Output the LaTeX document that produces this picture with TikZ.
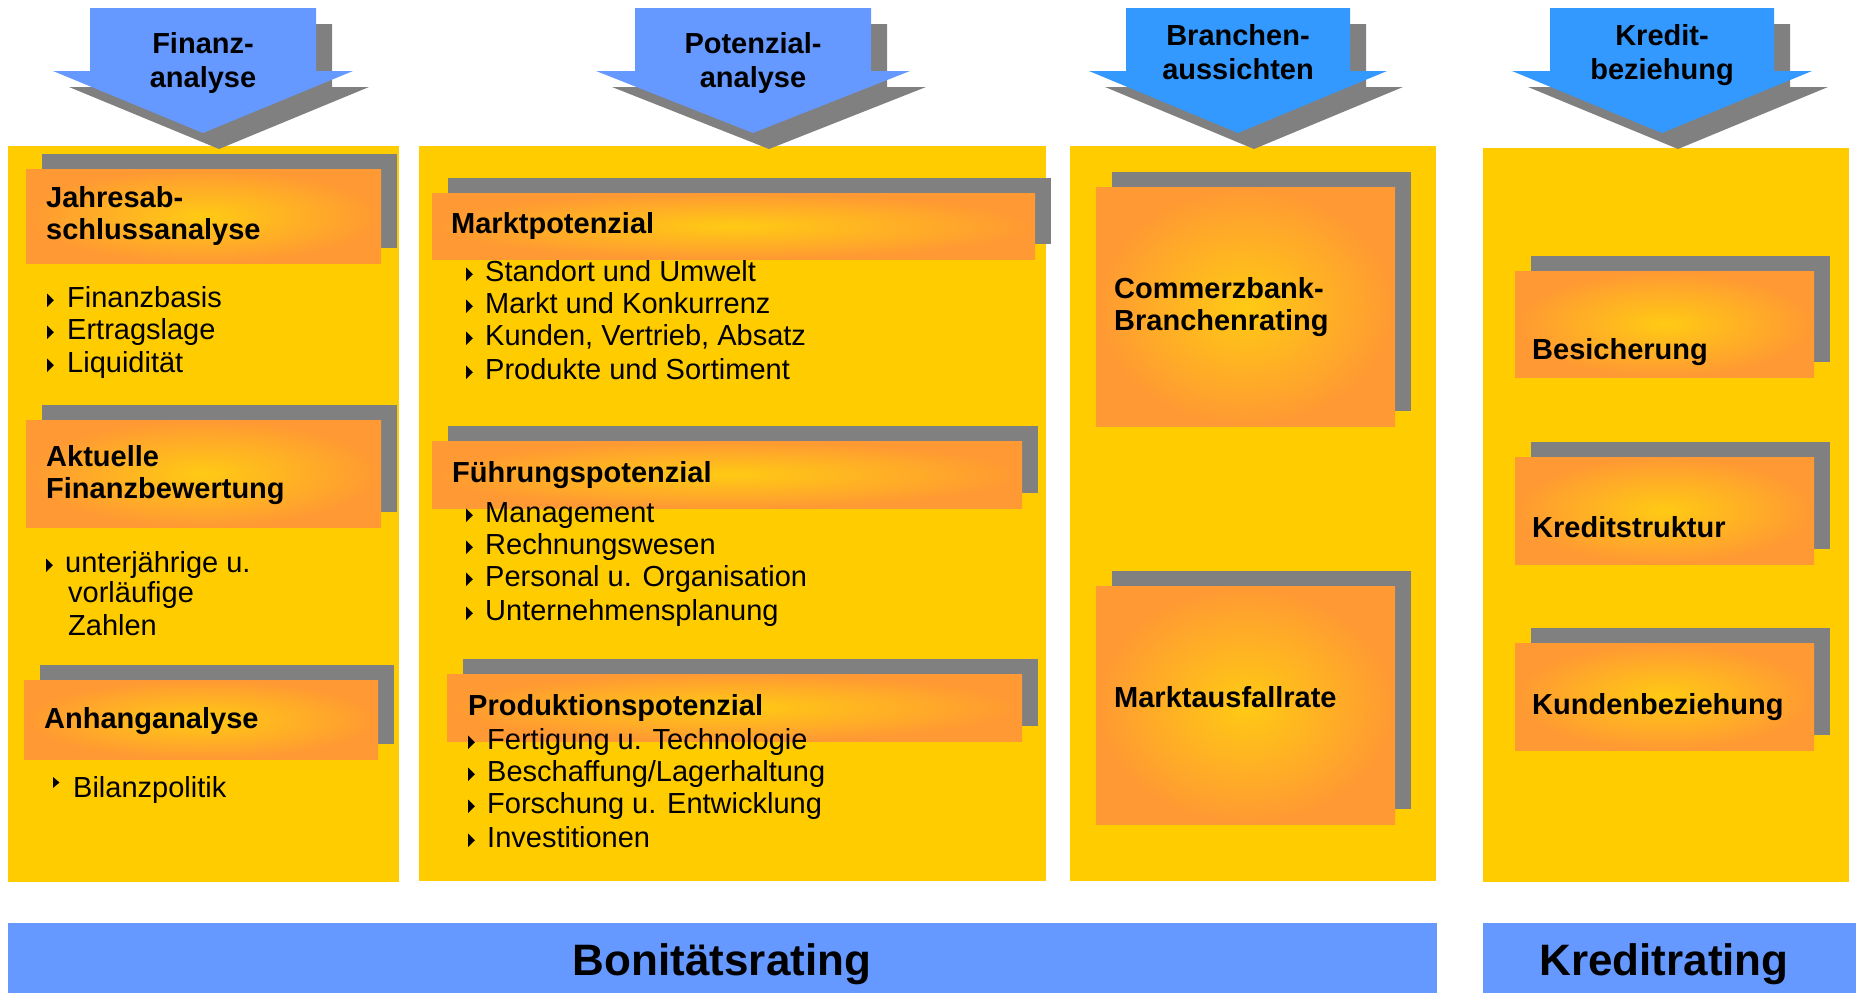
\documentclass[tikz,border=0pt]{standalone}
\usepackage{fontspec}
\setmainfont{Liberation Sans}
\usepackage{tikz}
\usetikzlibrary{positioning, shadows}
\definecolor{panel}{RGB}{255,204,0}
\definecolor{glowmid}{RGB}{255,202,20}
\definecolor{glowrim}{RGB}{255,153,51}
\definecolor{shadowgray}{RGB}{128,128,128}
\definecolor{sky}{RGB}{102,153,255}
\definecolor{skydeep}{RGB}{51,153,255}
% bullet mark in front of an item node (x to the left of its text)
\newcommand{\bulletmark}[2][20]{\fill ([xshift=-#1pt]#2.base west) -- ++(0,-13.5) -- ++(7,6.75) -- cycle;}

\begin{document}
\begin{tikzpicture}[
  x=1pt, y=-1pt,
  panelbox/.style={fill=panel, inner sep=0pt, outer sep=0pt, anchor=north west},
  glowbox/.style={inner color=glowmid, outer color=glowrim, inner sep=0pt, outer sep=0pt,
                  anchor=north west, general shadow={fill=shadowgray, shadow xshift=16pt, shadow yshift=15pt}},
  head/.style={font=\bfseries\fontsize{29}{32}\selectfont, inner sep=0pt, align=left, anchor=north west},
  item/.style={font=\fontsize{29}{33}\selectfont, inner sep=0pt, anchor=base west},
  srclabel/.style={font=\bfseries\fontsize{29}{34}\selectfont, inner sep=0pt, align=center, anchor=north},
  ratingbar/.style={fill=sky, inner sep=0pt, outer sep=0pt, anchor=north west, minimum height=70pt},
  rating/.style={font=\bfseries\fontsize{44}{50}\selectfont, inner sep=0pt, anchor=base},
]
\useasboundingbox (0,0) rectangle (1856,993);

% columns
\node[panelbox, minimum width=391pt, minimum height=736pt] (fincol) at (8,146) {};
\node[panelbox, minimum width=627pt, minimum height=735pt] (potcol) at (419,146) {};
\node[panelbox, minimum width=366pt, minimum height=735pt] (bracol) at (1070,146) {};
\node[panelbox, minimum width=366pt, minimum height=734pt] (krecol) at (1483,148) {};

% Finanzanalyse
\node[glowbox, minimum width=355pt, minimum height=94pt] (jab) at (26,169) {};
\node[head] (jabt) at (46,186) {Jahresab-\\schlussanalyse};
\foreach \yy/\txt [count=\i] in {307/Finanzbasis, 339/Ertragslage, 372/Liquidität}{
  \node[item] (jab\i) at (67,\yy) {\txt};
  \bulletmark{jab\i}
}
\node[glowbox, minimum width=355pt, minimum height=107pt] (afb) at (26,420) {};
\node[head] (afbt) at (46,445) {Aktuelle\\Finanzbewertung};
\node[item] (afb1) at (65,572) {unterjährige u.};
\node[item] (afb2) at (68,602) {vorläufige};
\node[item] (afb3) at (68,635) {Zahlen};
\bulletmark[19]{afb1}
\node[glowbox, minimum width=354pt, minimum height=79pt] (anh) at (24,680) {};
\node[head, anchor=base west] (anht) at (44,728) {Anhanganalyse};
\node[item] (anh1) at (73,797) {Bilanzpolitik};
\fill ([shift={(-20,-9)}]anh1.base west) -- ++(0,-11) -- ++(6.5,5.5) -- cycle;

% Potenzialanalyse
\node[glowbox, minimum width=603pt, minimum height=66pt] (mkp) at (432,193) {};
\node[head, anchor=base west] (mkpt) at (451,233) {Marktpotenzial};
\foreach \yy/\txt [count=\i] in {281/Standort und Umwelt, 313/Markt und Konkurrenz,
    345/{Kunden, Vertrieb, Absatz}, 379/Produkte und Sortiment}{
  \node[item] (mkp\i) at (485,\yy) {\txt};
  \bulletmark[19]{mkp\i}
}
\node[glowbox, minimum width=590pt, minimum height=67pt] (fue) at (432,441) {};
\node[head, anchor=base west] (fuet) at (452,482) {Führungspotenzial};
\foreach \yy/\txt [count=\i] in {522/Management, 554/Rechnungswesen,
    586/Personal u. Organisation, 620/Unternehmensplanung}{
  \node[item] (fue\i) at (485,\yy) {\txt};
  \bulletmark[19]{fue\i}
}
\node[glowbox, minimum width=575pt, minimum height=67pt] (pro) at (447,674) {};
\node[head, anchor=base west] (prot) at (468,715) {Produktionspotenzial};
\foreach \yy/\txt [count=\i] in {749/Fertigung u. Technologie, 781/{Beschaffung/Lagerhaltung},
    813/Forschung u. Entwicklung, 847/Investitionen}{
  \node[item] (pro\i) at (487,\yy) {\txt};
  \bulletmark[19]{pro\i}
}

% Branchenaussichten
\node[glowbox, minimum width=299pt, minimum height=239pt] (cbr) at (1096,187) {};
\node[head] (cbrt) at (1114,277) {Commerzbank-\\Branchenrating};
\node[glowbox, minimum width=299pt, minimum height=238pt] (mar) at (1096,586) {};
\node[head, anchor=base west] (mart) at (1114,707) {Marktausfallrate};

% Kreditbeziehung
\node[glowbox, minimum width=299pt, minimum height=106pt] (bes) at (1515,271) {};
\node[head, anchor=base west] (best) at (1532,359) {Besicherung};
\node[glowbox, minimum width=299pt, minimum height=107pt] (krs) at (1515,457) {};
\node[head, anchor=base west] (krst) at (1532,537) {Kreditstruktur};
\node[glowbox, minimum width=299pt, minimum height=107pt] (kub) at (1515,643) {};
\node[head, anchor=base west] (kubt) at (1532,714) {Kundenbeziehung};

% arrows on top
\foreach \cx/\bw/\hw/\col/\nm/\by/\txt in {
    203/113/150/sky/finarr/53/{Finanz-\\analyse},
    753/118/157/sky/potarr/53/{Potenzial-\\analyse},
    1238/112/149/skydeep/braarr/45/{Branchen-\\aussichten},
    1662/112/150/skydeep/krearr/45/{Kredit-\\beziehung}}{
  \fill[shadowgray, shift={(16,16)}] (\cx-\bw,8) -- (\cx+\bw,8) -- (\cx+\bw,71) -- (\cx+\hw,71)
    -- (\cx,133) -- (\cx-\hw,71) -- (\cx-\bw,71) -- cycle;
  \fill[\col] (\cx-\bw,8) -- (\cx+\bw,8) -- (\cx+\bw,71) -- (\cx+\hw,71)
    -- (\cx,133) -- (\cx-\hw,71) -- (\cx-\bw,71) -- cycle;
  \node[srclabel] (\nm) at (\cx,\by-21) {\txt};
}

% ratings
\node[ratingbar, minimum width=1429pt] (bon) at (8,923) {};
\node[rating] (bont) at (722,975) {Bonitätsrating};
\node[ratingbar, minimum width=373pt] (kra) at (1483,923) {};
\node[rating] (krat) at (1664,975) {Kreditrating};
\end{tikzpicture}
\end{document}
